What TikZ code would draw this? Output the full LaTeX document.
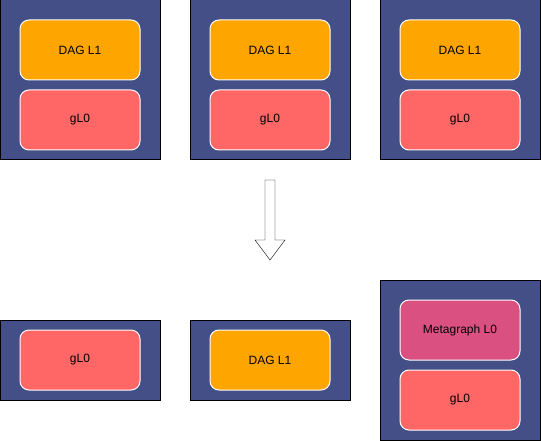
\documentclass[tikz,border=0pt]{standalone}
\usepackage{fontspec}
\setmainfont{Liberation Sans}
\definecolor{panel}{HTML}{434F86}
\definecolor{dagcol}{HTML}{FFA500}
\definecolor{glcol}{HTML}{FF6666}
\definecolor{metacol}{HTML}{DA5181}
\begin{document}
\begin{tikzpicture}[x=1pt,y=-1pt,
	outer/.style={draw=black,fill=panel,line width=1pt,minimum width=160pt,inner sep=0pt},
	inner/.style={draw=white,line width=1pt,rounded corners=9pt,minimum width=120pt,minimum height=60pt,inner sep=0pt,font=\fontsize{12}{14}\selectfont}]
				\useasboundingbox (0,0) rectangle (541,441);
				% top row
				\node[outer,minimum height=160pt] (t1) at (80,80) {};
				\node[outer,minimum height=160pt] (t2) at (270,80) {};
				\node[outer,minimum height=160pt] (t3) at (460,80) {};
				\node[inner,fill=dagcol] (dag1) at (80,50) {DAG L1};
				\node[inner,fill=glcol] (gl1) at (80,120) {gL0};
				\node[inner,fill=dagcol] (dag2) at (270,50) {DAG L1};
				\node[inner,fill=glcol] (gl2) at (270,120) {gL0};
				\node[inner,fill=dagcol] (dag3) at (460,50) {DAG L1};
				\node[inner,fill=glcol] (gl3) at (460,120) {gL0};
				% arrow
				\draw[fill=white] (265,180) -- (275,180) -- (275,240) -- (285,240) -- (270,260) -- (255,240) -- (265,240) -- cycle;
				% bottom row
				\node[outer,minimum height=80pt] (b1) at (80,360) {};
				\node[outer,minimum height=80pt] (b2) at (270,360) {};
				\node[outer,minimum height=160pt] (b3) at (460,360) {};
				\node[inner,fill=glcol] (gl4) at (80,360) {gL0};
				\node[inner,fill=dagcol] (dag4) at (270,360) {DAG L1};
				\node[inner,fill=metacol] (meta) at (460,330) {Metagraph L0};
				\node[inner,fill=glcol] (gl5) at (460,400) {gL0};
			\end{tikzpicture}
\end{document}
